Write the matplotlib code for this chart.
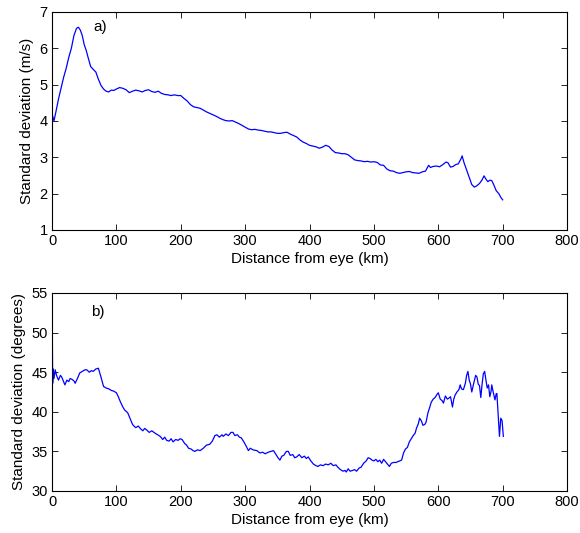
import matplotlib
matplotlib.use("Agg")
import matplotlib.pyplot as plt

plt.rcParams['font.family'] = ['Liberation Sans', 'DejaVu Sans']

# a) standard deviation of wind speed (m/s) vs distance from eye (km)
dist_a = [0, 3, 6, 10, 14, 18, 22, 26, 30, 34, 38, 41, 44, 47, 50, 53, 56,
          60, 64, 68, 72, 76, 80, 84, 88, 92, 96, 100, 105, 110, 115, 120,
          125, 130, 135, 140, 145, 150, 155, 160, 165, 170, 175, 180, 185,
          190, 195, 200, 205, 210, 215, 220, 225, 230, 235, 240, 245, 250,
          255, 260, 265, 270, 275, 280, 285, 290, 295, 300, 305, 310, 315,
          320, 325, 330, 335, 340, 345, 350, 355, 360, 365, 370, 375, 380,
          385, 390, 395, 400, 405, 410, 415, 420, 425, 430, 435, 440, 445,
          450, 455, 460, 465, 470, 475, 480, 485, 490, 495, 500, 505, 510,
          515, 520, 525, 530, 535, 540, 545, 550, 555, 560, 565, 570, 575,
          580, 585, 588, 592, 597, 602, 607, 612, 615, 619, 623, 627, 631,
          635, 637, 640, 644, 648, 652, 656, 660, 664, 668, 671, 674, 677,
          680, 683, 686, 690, 694, 697, 700]
std_speed = [4.2, 4.0, 4.25, 4.6, 4.9, 5.2, 5.45, 5.75, 6.0, 6.35, 6.55,
             6.58, 6.5, 6.35, 6.1, 5.95, 5.75, 5.5, 5.42, 5.35, 5.15, 4.98,
             4.88, 4.82, 4.8, 4.85, 4.84, 4.88, 4.92, 4.9, 4.86, 4.78, 4.82,
             4.85, 4.83, 4.8, 4.84, 4.86, 4.81, 4.79, 4.82, 4.76, 4.73, 4.72,
             4.7, 4.72, 4.7, 4.7, 4.62, 4.55, 4.45, 4.39, 4.37, 4.35, 4.3,
             4.25, 4.21, 4.17, 4.13, 4.08, 4.04, 4.01, 4.0, 4.01, 3.97, 3.93,
             3.88, 3.83, 3.78, 3.76, 3.77, 3.75, 3.74, 3.72, 3.70, 3.70, 3.68,
             3.66, 3.66, 3.68, 3.69, 3.64, 3.60, 3.56, 3.48, 3.42, 3.38, 3.33,
             3.31, 3.29, 3.25, 3.28, 3.33, 3.30, 3.20, 3.13, 3.12, 3.10, 3.10,
             3.07, 3.0, 2.93, 2.91, 2.90, 2.88, 2.89, 2.87, 2.88, 2.86, 2.79,
             2.78, 2.68, 2.63, 2.62, 2.58, 2.56, 2.58, 2.60, 2.61, 2.58, 2.57,
             2.56, 2.60, 2.62, 2.78, 2.72, 2.75, 2.76, 2.74, 2.80, 2.87, 2.85,
             2.73, 2.75, 2.80, 2.82, 2.95, 3.04, 2.85, 2.65, 2.45, 2.25, 2.18,
             2.22, 2.28, 2.38, 2.49, 2.40, 2.33, 2.37, 2.36, 2.25, 2.08, 2.0,
             1.9, 1.83]

# b) standard deviation of wind direction (degrees) vs distance from eye (km)
dist_b = [0, 0.5, 1, 2, 3, 5, 7, 10, 13, 15, 18, 20, 23, 26, 28, 31, 34, 36,
          40, 43, 47, 51, 54, 58, 61, 64, 68, 72, 76, 80, 84, 88, 92, 96,
          100, 103, 106, 110, 113, 116, 118, 121, 124, 126, 130, 134, 137,
          141, 144, 147, 151, 155, 160, 164, 168, 172, 175, 178, 182, 185,
          188, 192, 196, 199, 202, 206, 209, 212, 216, 219, 222, 226, 230,
          235, 240, 245, 249, 253, 256, 260, 264, 266, 270, 274, 278, 281,
          284, 288, 291, 294, 298, 302, 305, 308, 312, 318, 323, 327, 331,
          336, 340, 344, 348, 351, 354, 357, 360, 364, 367, 370, 374, 377,
          380, 384, 388, 392, 395, 398, 402, 406, 410, 413, 417, 421, 425,
          429, 433, 437, 441, 444, 448, 452, 455, 457, 460, 463, 467, 470,
          473, 477, 480, 484, 488, 491, 494, 497, 500, 503, 506, 509, 512,
          515, 518, 521, 524, 527, 530, 534, 537, 540, 543, 546, 549, 552,
          555, 558, 561, 564, 566, 569, 571, 574, 576, 579, 581, 584, 586,
          589, 592, 595, 598, 600, 603, 606, 608, 611, 614, 616, 619, 622,
          624, 626, 629, 632, 634, 636, 639, 642, 644, 646, 648, 650, 652,
          655, 658, 660, 662, 664, 666, 668, 670, 672, 674, 676, 678, 680,
          682, 683, 685, 688, 690, 691, 693, 695, 697, 699, 701]
std_dir = [55, 50, 43.6, 45.4, 44.2, 45.3, 44.6, 44.0, 44.6, 44.4, 43.8,
           43.4, 44.0, 43.8, 44.2, 44.1, 43.9, 43.6, 44.3, 44.9, 45.1, 45.3,
           45.3, 45.0, 45.2, 45.1, 45.4, 45.5, 44.4, 43.2, 43.0, 42.9, 42.7,
           42.6, 42.4, 41.9, 41.3, 40.6, 40.2, 40.0, 39.8, 39.2, 38.6, 38.3,
           38.0, 38.2, 37.9, 37.6, 37.9, 37.7, 37.4, 37.6, 37.3, 37.1, 36.9,
           36.5, 36.8, 36.4, 36.3, 36.6, 36.2, 36.5, 36.4, 36.6, 36.5, 36.0,
           35.8, 35.4, 35.3, 35.1, 35.0, 35.2, 35.1, 35.4, 35.8, 35.9, 36.3,
           37.0, 37.1, 36.8, 37.1, 36.9, 37.2, 37.0, 37.4, 37.4, 37.0, 37.1,
           36.8, 36.7, 36.2, 35.6, 35.1, 35.4, 35.2, 35.1, 34.8, 34.9, 34.7,
           34.9, 35.0, 35.1, 34.6, 34.2, 33.9, 34.4, 34.5, 35.0, 35.0, 34.5,
           34.6, 34.2, 34.3, 34.6, 34.2, 34.4, 34.1, 34.3, 33.8, 33.4, 33.2,
           33.1, 33.3, 33.2, 33.4, 33.3, 33.5, 33.2, 33.3, 33.0, 32.7, 32.5,
           32.6, 32.4, 32.8, 32.5, 32.6, 32.7, 32.5, 32.9, 33.0, 33.5, 33.8,
           34.2, 34.1, 33.9, 33.8, 34.0, 33.7, 33.9, 33.5, 34.0, 33.7, 33.4,
           33.1, 33.5, 33.6, 33.6, 33.7, 33.8, 33.9, 34.8, 35.3, 35.5, 36.2,
           36.6, 37.0, 37.3, 37.9, 38.5, 39.2, 38.8, 38.3, 38.4, 38.7, 39.9,
           40.4, 41.2, 41.6, 41.8, 42.2, 42.4, 41.6, 41.4, 41.1, 42.0, 41.6,
           41.7, 41.9, 40.6, 41.6, 42.1, 42.5, 42.8, 43.4, 42.9, 42.8, 43.6,
           44.6, 45.1, 44.0, 43.5, 42.5, 43.6, 44.6, 44.4, 43.5, 43.3, 41.8,
           43.5, 44.8, 45.1, 44.0, 43.0, 43.4, 41.9, 42.6, 43.4, 42.6, 41.5,
           42.3, 42.3, 39.5, 36.9, 39.2, 38.9, 36.9]

fig = plt.figure(figsize=(5.8, 5.33), dpi=100)
ax1 = fig.add_axes([0.0897, 0.5685, 0.888, 0.409])
ax2 = fig.add_axes([0.0897, 0.0788, 0.888, 0.3715])

ax1.plot(dist_a, std_speed, color='#0000ff', lw=0.9)
ax1.set_xlim(0, 800)
ax1.set_ylim(1, 7)
ax1.set_xlabel("Distance from eye (km)", fontsize=11, labelpad=3)
ax1.set_ylabel("Standard deviation (m/s)", fontsize=11, labelpad=4)
ax1.text(65, 6.6, "a)", fontsize=11, va='center')

ax2.plot(dist_b, std_dir, color='#0000ff', lw=0.9)
ax2.set_xlim(0, 800)
ax2.set_ylim(30, 55)
ax2.set_xlabel("Distance from eye (km)", fontsize=11, labelpad=3)
ax2.set_ylabel("Standard deviation (degrees)", fontsize=11, labelpad=4)
ax2.text(60, 52.6, "b)", fontsize=11, va='center')

for ax in (ax1, ax2):
    ax.set_xticks(range(0, 801, 100))
    ax.tick_params(direction='in', top=True, right=True, length=4,
                   labelsize=10.5, width=0.6, pad=3)
    for s in ax.spines.values():
        s.set_linewidth(0.8)

fig.savefig("out.png", dpi=100)
